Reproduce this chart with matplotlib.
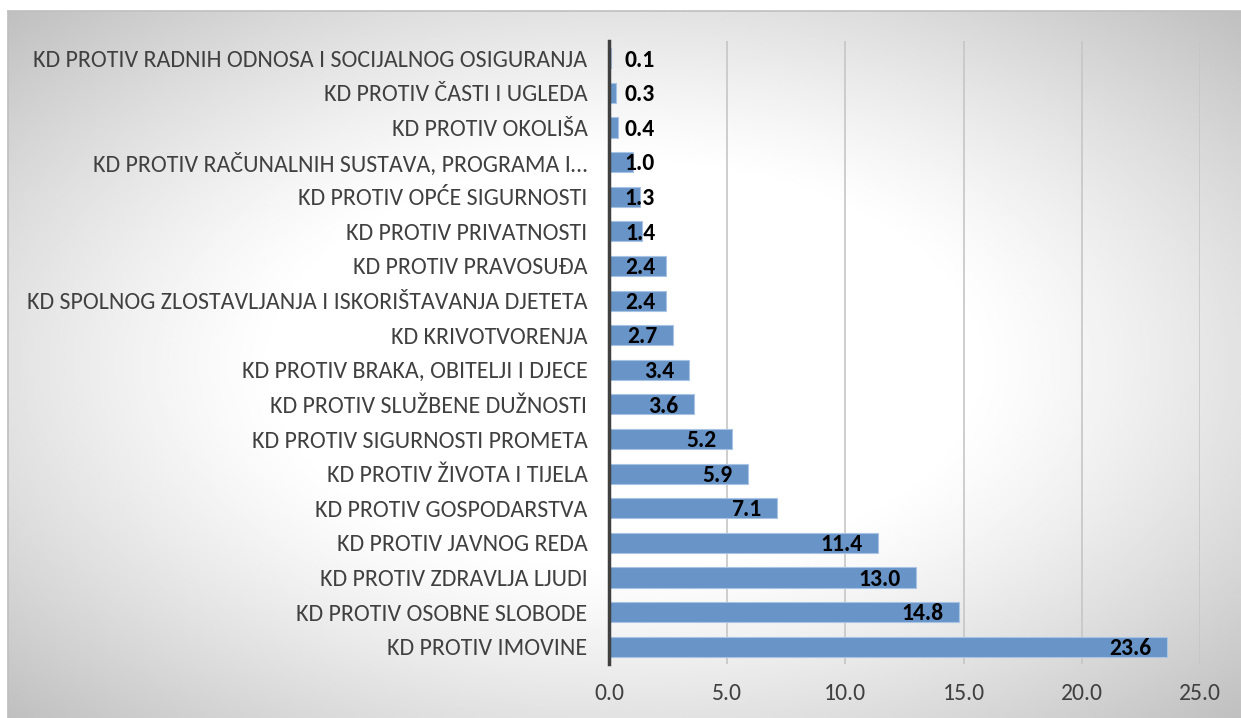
import numpy as np
import matplotlib.pyplot as plt
from matplotlib import font_manager

categories = [
    'KD PROTIV RADNIH ODNOSA I SOCIJALNOG OSIGURANJA',
    'KD PROTIV ČASTI I UGLEDA',
    'KD PROTIV OKOLIŠA',
    'KD PROTIV RAČUNALNIH SUSTAVA, PROGRAMA I…',
    'KD PROTIV OPĆE SIGURNOSTI',
    'KD PROTIV PRIVATNOSTI',
    'KD PROTIV PRAVOSUĐA',
    'KD SPOLNOG ZLOSTAVLJANJA I ISKORIŠTAVANJA DJETETA',
    'KD KRIVOTVORENJA',
    'KD PROTIV BRAKA, OBITELJI I DJECE',
    'KD PROTIV SLUŽBENE DUŽNOSTI',
    'KD PROTIV SIGURNOSTI PROMETA',
    'KD PROTIV ŽIVOTA I TIJELA',
    'KD PROTIV GOSPODARSTVA',
    'KD PROTIV JAVNOG REDA',
    'KD PROTIV ZDRAVLJA LJUDI',
    'KD PROTIV OSOBNE SLOBODE',
    'KD PROTIV IMOVINE',
]
values = [0.1, 0.3, 0.4, 1.0, 1.3, 1.4, 2.4, 2.4, 2.7, 3.4, 3.6, 5.2, 5.9, 7.1, 11.4, 13.0, 14.8, 23.6]
xticks = [0, 5, 10, 15, 20, 25]

names = {f.name for f in font_manager.fontManager.ttflist}
for cand in ['Carlito', 'Lato', 'DejaVu Sans']:
    if cand in names:
        break
plt.rcParams['font.family'] = [cand, 'DejaVu Sans']

W, H = 1241, 718
fig = plt.figure(figsize=(W / 100, H / 100), dpi=100)

# background: grey border box with radial gradient
bg = fig.add_axes([8 / W, 0, 1 - 8 / W, (H - 11) / H])
gx, gy = np.meshgrid(np.linspace(0, 1, 400), np.linspace(0, 1, 240))
d = np.sqrt((gx - 0.5) ** 2 + (gy - 0.5) ** 2)
shade = 1 - 0.25 * np.clip((d - 0.28) / 0.43, 0, 1) ** 1.2
bg.imshow(shade, cmap='gray', vmin=0, vmax=1, aspect='auto', extent=[0, 1, 0, 1], origin='lower')
bg.set_xlim(0, 1)
bg.set_ylim(0, 1)
for s in bg.spines.values():
    s.set_color('#bfbfbf')
    s.set_linewidth(1.2)
bg.spines['right'].set_visible(False)
bg.spines['bottom'].set_visible(False)
bg.set_xticks([])
bg.set_yticks([])

ax = fig.add_axes([609 / W, 1 - 664 / H, (1200 - 609) / W, (664 - 41) / H])
ax.patch.set_alpha(0)
y = np.arange(len(categories))
ax.barh(y, values, height=0.58, color='#6894c8', edgecolor='#a8c3e3', linewidth=0.8, zorder=3)
ax.set_xlim(0, 25)
ax.set_ylim(len(categories) - 0.5, -0.5)
ax.set_xticks(xticks)
ax.set_xticklabels([f'{t:.1f}' for t in xticks], fontsize=17, color='#404040')
ax.set_yticks(y)
ax.set_yticklabels(categories, fontsize=17.3, color='#404040')
ax.tick_params(length=0, pad=15.5, axis='y')
ax.tick_params(length=0, pad=14, axis='x')
ax.grid(axis='x', color='#c6c6c6', linewidth=1.2, zorder=1)
for s in ['top', 'right', 'bottom']:
    ax.spines[s].set_visible(False)
ax.spines['left'].set_color('#404040')
ax.spines['left'].set_linewidth(2.5)
ax.spines['left'].set_zorder(5)

for yi, v in zip(y, values):
    xpos = max(v - 0.66, 1.95)
    ax.text(xpos, yi + 0.05, f'{v:.1f}', ha='right', va='center', fontsize=17,
            fontweight='bold', color='black', zorder=6)

fig.savefig('out.png', dpi=100)
